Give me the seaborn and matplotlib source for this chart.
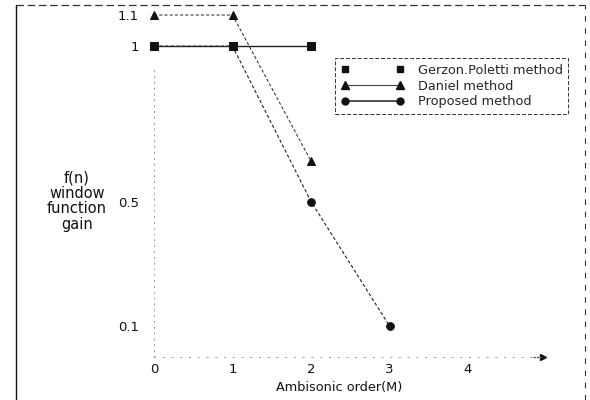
import matplotlib
matplotlib.use("Agg")
import matplotlib.pyplot as plt
from matplotlib.lines import Line2D
import seaborn as sns
import pandas as pd

# ---- data ----
orders_gerzon = [0, 1, 2]
gain_gerzon = [1.0, 1.0, 1.0]
orders_daniel = [0, 1, 2]
gain_daniel = [1.1, 1.1, 0.63]
orders_proposed = [0, 1, 2, 3]
gain_proposed = [1.0, 1.0, 0.5, 0.1]

x_ticks = [0, 1, 2, 3, 4]
y_ticks = [0.1, 0.5, 1.0, 1.1]
y_ticklabels = ["0.1", "0.5", "1", "1.1"]
series_names = ["Gerzon.Poletti method", "Daniel method", "Proposed method"]

sns.set_theme(style="white")
plt.rcParams["font.family"] = ["DejaVu Sans"]

fig = plt.figure(figsize=(5.9, 4.0), dpi=100)
ax = fig.add_axes([154 / 590, 1 - 357 / 400, 392.5 / 590, (357 - 2.6) / 400])

df_g = pd.DataFrame({"x": orders_gerzon, "y": gain_gerzon})
df_d = pd.DataFrame({"x": orders_daniel, "y": gain_daniel})
df_p = pd.DataFrame({"x": orders_proposed, "y": gain_proposed})

sns.lineplot(data=df_p, x="x", y="y", ax=ax, color="#222222", linestyle=(0, (3, 2)),
             linewidth=0.8, marker="o", markersize=5.5, markeredgecolor="#111111",
             markerfacecolor="#111111", legend=False, clip_on=False)
sns.lineplot(data=df_d, x="x", y="y", ax=ax, color="#333333", linestyle=(0, (3, 2)),
             linewidth=0.75, marker="^", markersize=6, markeredgecolor="#111111",
             markerfacecolor="#111111", legend=False, clip_on=False)
sns.lineplot(data=df_g, x="x", y="y", ax=ax, color="#222222", linestyle="-",
             linewidth=1.0, marker="s", markersize=5.5, markeredgecolor="#111111",
             markerfacecolor="#111111", legend=False, clip_on=False)

ax.set_xlim(0, 5)
ax.set_ylim(0, 1.14)
ax.set_xticks(x_ticks)
ax.set_xticklabels([str(t) for t in x_ticks], fontsize=9.5)
ax.set_yticks(y_ticks)
ax.set_yticklabels(y_ticklabels, fontsize=9.5)
ax.tick_params(axis="x", length=0, pad=4, colors="#111111")
ax.tick_params(axis="y", length=0, pad=11, colors="#111111")
ax.set_xlabel("")
ax.set_ylabel("")
ax.set_facecolor("white")

for s in ["top", "right"]:
    ax.spines[s].set_visible(False)
ax.spines["left"].set_linestyle((0, (1, 5)))
ax.spines["left"].set_color("#999999")
ax.spines["left"].set_linewidth(0.7)
ax.spines["left"].set_bounds(0, 0.93)
ax.spines["bottom"].set_linestyle((0, (1, 8)))
ax.spines["bottom"].set_color("#999999")
ax.spines["bottom"].set_linewidth(0.7)
ax.plot(0.99, 0, marker=">", color="#111111", markersize=5,
        transform=ax.transAxes, clip_on=False)
ax.plot([0.965, 0.99], [0, 0], color="#333333", linewidth=0.8, linestyle=(0, (2, 1)),
        transform=ax.transAxes, clip_on=False)

# axis labels
fig.text(77 / 590, 1 - 201 / 400, "f(n)\nwindow\nfunction\ngain", ha="center",
         va="center", fontsize=10.5, linespacing=1.05, color="#111111")
fig.text(339 / 590, 1 - 388 / 400, "Ambisonic order(M)", ha="center", va="center",
         fontsize=9.3, color="#111111")

# legend
handles = [
    Line2D([0], [0], color="#222222", linestyle="none", marker="s", markersize=5,
           markerfacecolor="#111111", markeredgecolor="#111111"),
    Line2D([0], [0], color="#444444", linestyle="-", linewidth=0.8, marker="^",
           markersize=5.5, markerfacecolor="#111111", markeredgecolor="#111111"),
    Line2D([0], [0], color="#222222", linestyle="-", linewidth=1.1, marker="o",
           markersize=5, markerfacecolor="#111111", markeredgecolor="#111111"),
]
leg = fig.legend(handles, series_names, loc="upper left",
                 bbox_to_anchor=(335 / 590, 1 - 58 / 400), bbox_transform=fig.transFigure,
                 fontsize=9.3, numpoints=2, handlelength=4.9, handletextpad=1.05,
                 frameon=True, fancybox=False, borderpad=0.45, labelspacing=0.22,
                 borderaxespad=0)
frame = leg.get_frame()
frame.set_edgecolor("#333333")
frame.set_linewidth(0.7)
frame.set_linestyle((0, (4, 2)))
frame.set_alpha(1)

# scanned page border
fig.add_artist(Line2D([16 / 590, 16 / 590], [0, 1 - 5 / 400], color="#111111",
                      linewidth=1.0, transform=fig.transFigure))
fig.add_artist(Line2D([16 / 590, 585 / 590], [1 - 5 / 400, 1 - 5 / 400], color="#333333",
                      linewidth=0.9, linestyle=(0, (6, 3)), transform=fig.transFigure))
fig.add_artist(Line2D([585 / 590, 585 / 590], [0, 1 - 5 / 400], color="#333333",
                      linewidth=0.8, linestyle=(0, (5, 6)), transform=fig.transFigure))

fig.savefig("out.png", dpi=100, facecolor="white")
